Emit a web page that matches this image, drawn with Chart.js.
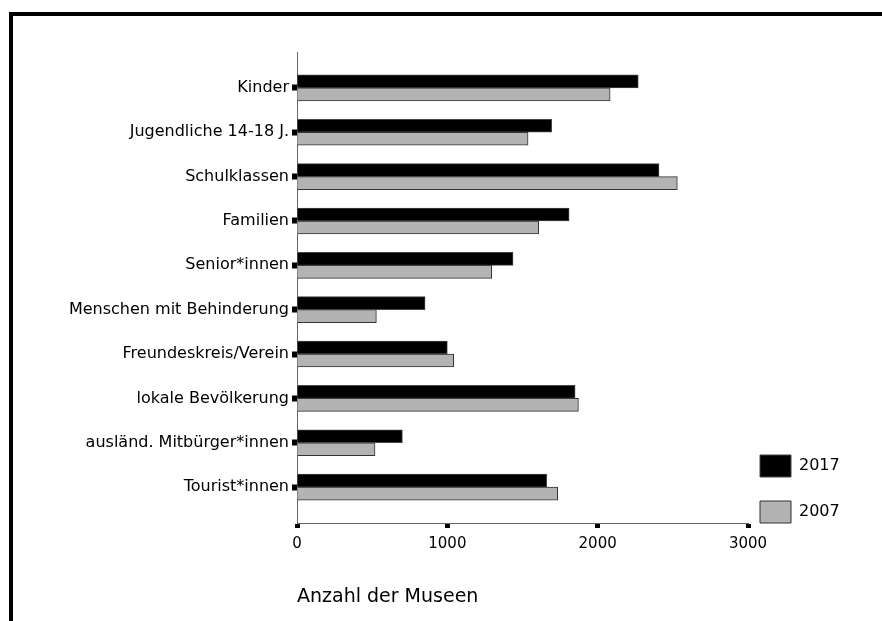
<!DOCTYPE html>
<html>
<head>
<meta charset="utf-8">
<script src="https://cdn.jsdelivr.net/npm/chart.js@4"></script>
<style>
  html, body { margin: 0; padding: 0; background: #fff; overflow: hidden; }
  #frame { position: absolute; left: 9px; top: 12px; width: 900px; height: 700px;
           border-top: 4px solid #000; border-left: 4px solid #000; }
  #museen { position: absolute; left: 0; top: 0; }
</style>
</head>
<body>
<div id="frame"></div>
<canvas id="museen" width="882" height="621"></canvas>
<script>
// Zielgruppen der Museen, 2017 vs 2007
const categories = [
  "Kinder",
  "Jugendliche 14-18 J.",
  "Schulklassen",
  "Familien",
  "Senior*innen",
  "Menschen mit Behinderung",
  "Freundeskreis/Verein",
  "lokale Bevölkerung",
  "ausländ. Mitbürger*innen",
  "Tourist*innen"
];
const values2017 = [2270, 1694, 2408, 1810, 1437, 852, 1000, 1850, 701, 1661];
const values2007 = [2083, 1537, 2530, 1608, 1295, 528, 1042, 1872, 519, 1734];
const xTicks = [0, 1000, 2000, 3000];

const font = "'DejaVu Sans', sans-serif";

// nudge the legend a bit, chart.js puts it too far up/right
const legendShift = {
  id: 'legendShift',
  afterLayout(chart) {
    const lg = chart.legend;
    lg.left -= 12; lg.right -= 12;
    lg.top += 24; lg.bottom += 24;
  }
};

const ctx = document.getElementById("museen").getContext("2d");
new Chart(ctx, {
  type: 'bar',
  data: {
    datasets: [
      {
        label: '2017',
        data: values2017.map((v, i) => ({ x: v, y: i })),
        backgroundColor: '#000',
        borderColor: '#444',
        borderWidth: 1,
        barThickness: 13
      },
      {
        label: '2007',
        data: values2007.map((v, i) => ({ x: v, y: i })),
        backgroundColor: '#b3b3b3',
        borderColor: '#333',
        borderWidth: 1,
        barThickness: 13
      }
    ]
  },
  options: {
    indexAxis: 'y',
    responsive: false,
    animation: false,
    devicePixelRatio: 1,
    layout: { padding: { top: 52, right: 24, bottom: 0, left: 0 } },
    plugins: {
      tooltip: { enabled: false },
      legend: {
        position: 'right',
        align: 'end',
        fullSize: false,
        maxWidth: 110,
        labels: {
          boxWidth: 31,
          boxHeight: 22,
          padding: 24,
          color: '#000',
          font: { family: font, size: 16 }
        }
      }
    },
    scales: {
      y: {
        type: 'linear',
        reverse: true,
        offset: false,
        min: -0.81,
        max: categories.length - 1 + 0.81,
        afterFit: s => { s.width = 297; },
        afterBuildTicks: s => {
          s.ticks = categories.map((c, i) => ({ value: i }));
        },
        ticks: {
          stepSize: 1,
          includeBounds: false,
          maxTicksLimit: 20,
          autoSkip: false,
          padding: 3,
          color: '#000',
          font: { family: font, size: 16 },
          callback: v => categories[v]
        },
        grid: {
          offset: false,
          drawOnChartArea: false,
          tickLength: 5,
          tickWidth: 6,
          tickColor: '#000'
        },
        border: { color: '#666', width: 1 }
      },
      x: {
        min: xTicks[0],
        max: xTicks[xTicks.length - 1],
        afterFit: s => { s.height = 98; },
        afterBuildTicks: s => {
          s.ticks = xTicks.map(v => ({ value: v }));
        },
        ticks: {
          padding: 7,
          color: '#000',
          font: { family: font, size: 15 },
          callback: v => String(v)
        },
        grid: {
          drawOnChartArea: false,
          tickLength: 5,
          tickWidth: 5,
          tickColor: '#000'
        },
        border: { color: '#666', width: 1 },
        title: {
          display: true,
          text: 'Anzahl der Museen',
          align: 'start',
          color: '#000',
          font: { family: font, size: 19 },
          padding: { top: 0, bottom: 13 }
        }
      }
    }
  },
  plugins: [legendShift]
});
</script>
</body>
</html>
